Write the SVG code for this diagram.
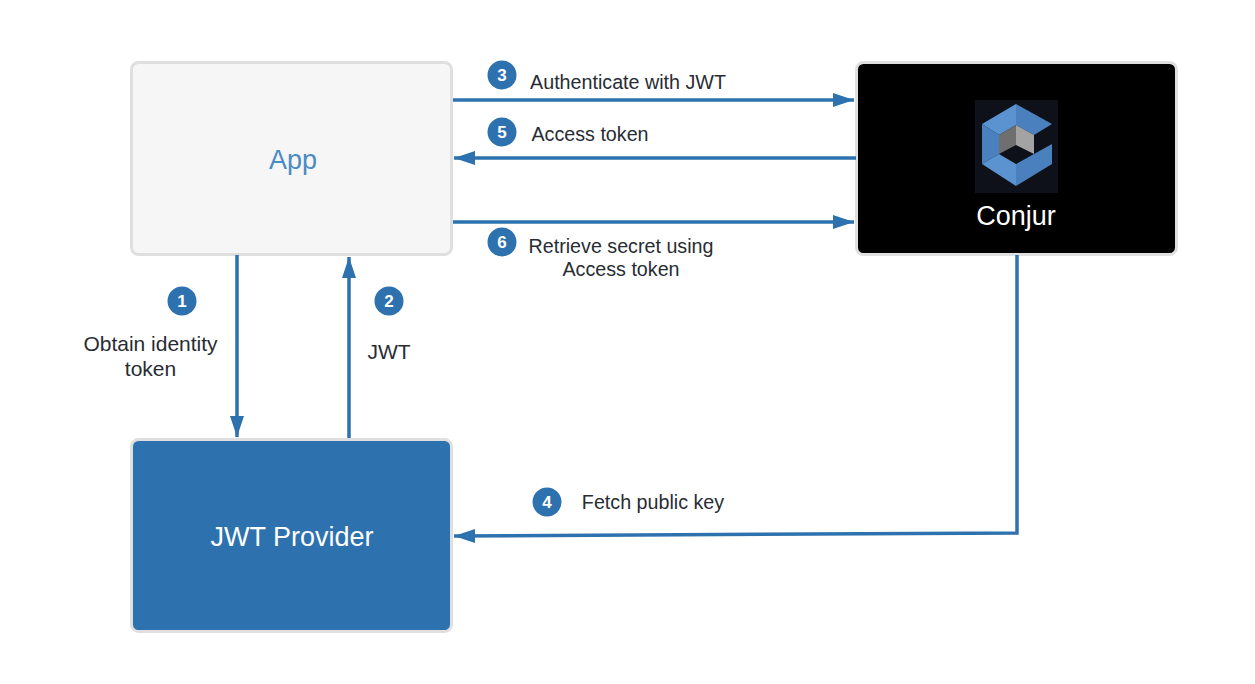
<svg xmlns="http://www.w3.org/2000/svg" width="1255" height="684" viewBox="0 0 1255 684">
<style>
text{font-family:"Liberation Sans",Arial,sans-serif}
.box{stroke:#dfdfdf;stroke-width:3}
.lbl{font-size:19.700px;fill:#282c33;text-anchor:middle}
.lbl2{font-size:21px;fill:#282c33;text-anchor:middle}
.title{font-size:27px;text-anchor:middle}
.num{font-size:17px;font-weight:bold;fill:#fff;text-anchor:middle}
.badge{fill:#2d72ae}
.c{fill:none;stroke:#2d72ae;stroke-width:3.500}
</style>
<defs>
<marker id="a" markerUnits="userSpaceOnUse" markerWidth="22" markerHeight="16" refX="21" refY="7.500" orient="auto"><path d="M0 0.500L21 7.500L0 14.500Z" fill="#2d72ae"/></marker>
</defs>
<rect width="1255" height="684" fill="#fff"/>
<g id="app"><rect class="box" x="131.500" y="62.500" width="320" height="192" rx="7" fill="#f6f6f6"/><text class="title" x="293" y="169" fill="#4b8bc4">App</text></g>
<g id="conjur"><rect class="box" x="856.500" y="62.500" width="320" height="192" rx="7" fill="#000"/>
<rect x="975" y="100" width="83" height="93" fill="#0e1119"/>
<path d="M982 124L1016 104V125L999 135Z" fill="#5b93d1"/>
<path d="M1016 104L1052 124L1034 135L1016 125Z" fill="#4a80bd"/>
<path d="M982 124L999 135V154L982 164Z" fill="#4a80bd"/>
<path d="M982 164L999 154L1016 164V186Z" fill="#5b93d1"/>
<path d="M1016 164L1034 154L1052 144V164L1016 186Z" fill="#4a80bd"/>
<path d="M1016 125V145L999 154V135Z" fill="#6f6f6f"/>
<path d="M1016 125L1034 135V154L1016 145Z" fill="#a3a3a3"/>
<text class="title" x="1016" y="225" fill="#fff">Conjur</text></g>
<g id="jwt-provider"><rect class="box" x="131.500" y="439.500" width="320" height="192" rx="7" fill="#2d72ae"/><text class="title" x="292" y="546" fill="#fff">JWT Provider</text></g>
<g id="connectors">
<path class="c" marker-end="url(#a)" d="M237 255V437"/>
<path class="c" marker-end="url(#a)" d="M349 438V257"/>
<path class="c" marker-end="url(#a)" d="M453 100H854"/>
<path class="c" marker-end="url(#a)" d="M856 158H454"/>
<path class="c" marker-end="url(#a)" d="M453 222H854"/>
<path class="c" marker-end="url(#a)" d="M1017 255V533L454 536"/>
</g>
<g id="label-1"><circle class="badge" cx="182" cy="301" r="14.500"/><text class="num" x="182" y="307">1</text><text class="lbl2" x="150.500" y="351">Obtain identity</text><text class="lbl2" x="150.500" y="376">token</text></g>
<g id="label-2"><circle class="badge" cx="389" cy="301" r="14.500"/><text class="num" x="389" y="307">2</text><text class="lbl2" x="389" y="359">JWT</text></g>
<g id="label-3"><circle class="badge" cx="502" cy="75" r="14.500"/><text class="num" x="502" y="81">3</text><text class="lbl" x="628" y="89">Authenticate with JWT</text></g>
<g id="label-5"><circle class="badge" cx="502" cy="132" r="14.500"/><text class="num" x="502" y="138">5</text><text class="lbl" x="590" y="141">Access token</text></g>
<g id="label-6"><circle class="badge" cx="502" cy="242" r="14.500"/><text class="num" x="502" y="248">6</text><text class="lbl" x="621" y="253">Retrieve secret using</text><text class="lbl" x="621" y="276">Access token</text></g>
<g id="label-4"><circle class="badge" cx="547" cy="502" r="14.500"/><text class="num" x="547" y="508">4</text><text class="lbl" x="653" y="509">Fetch public key</text></g>
</svg>
